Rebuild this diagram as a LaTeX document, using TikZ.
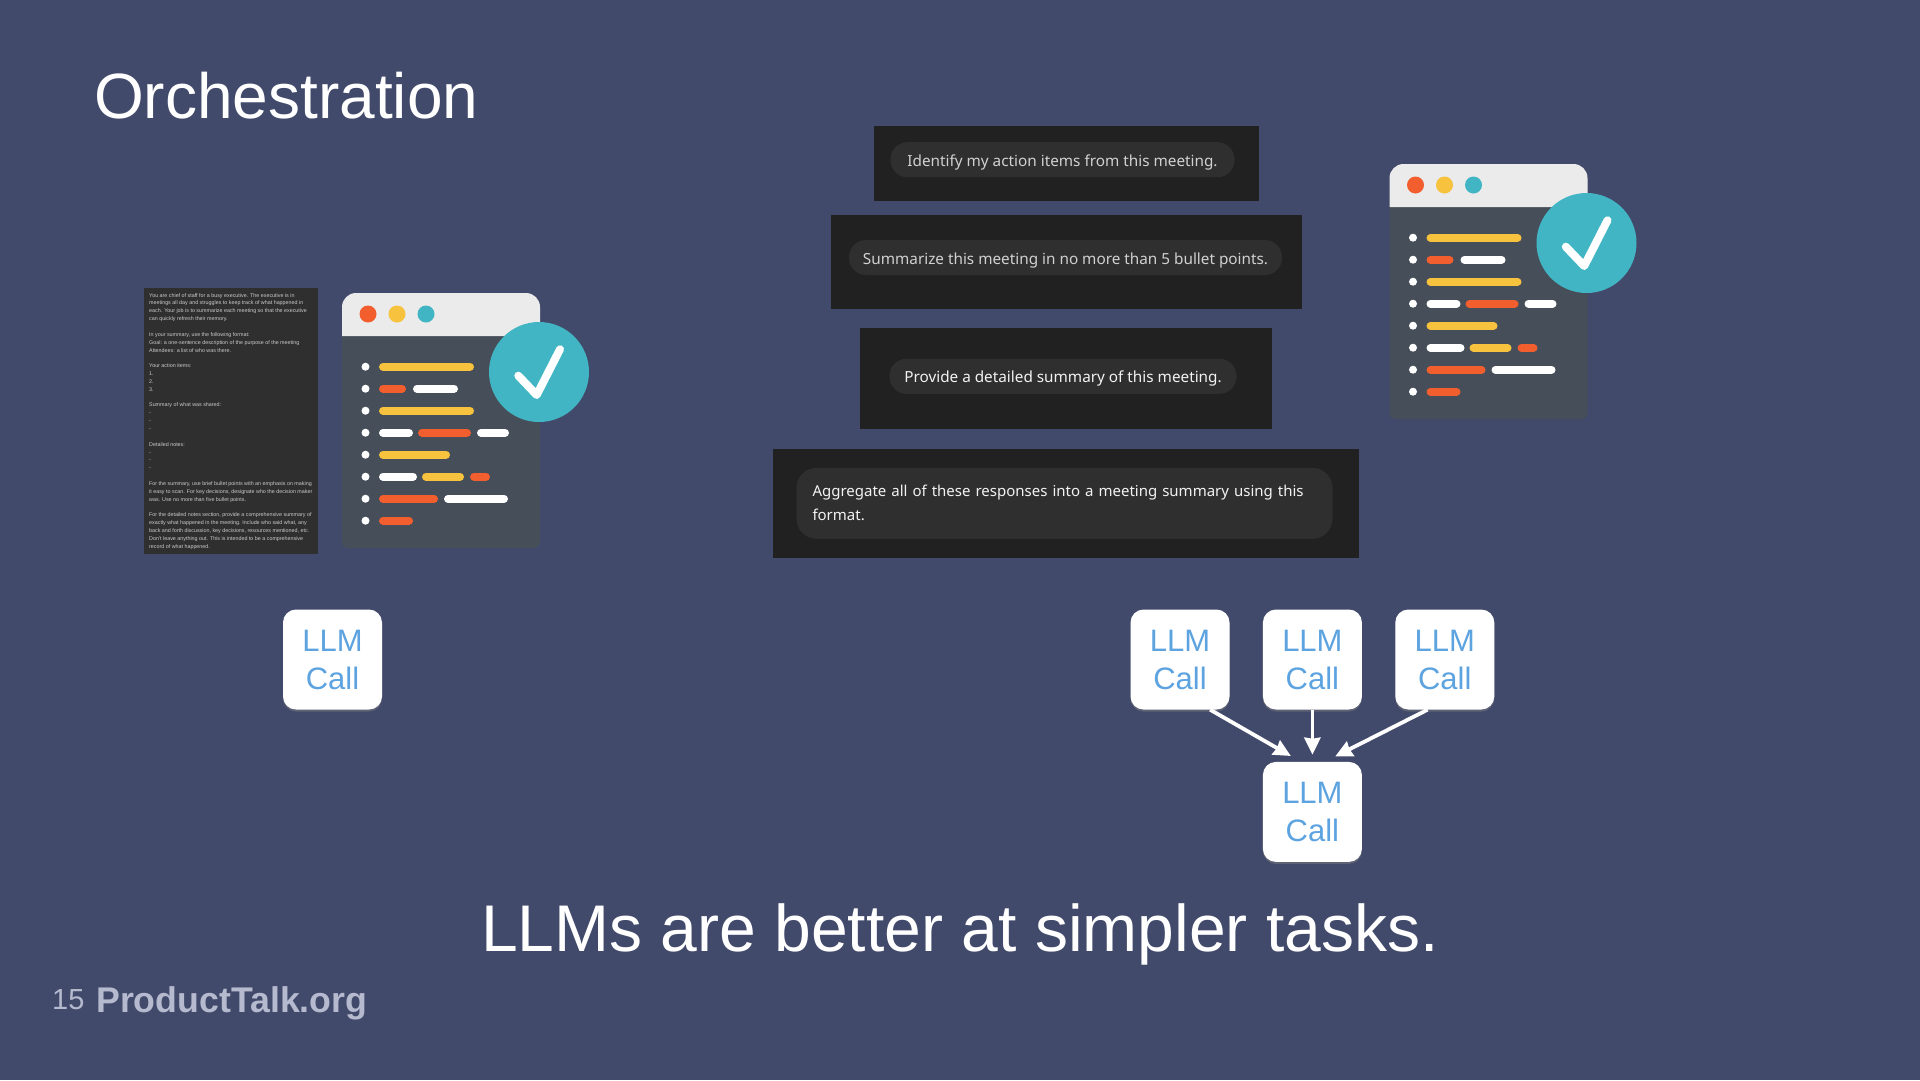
\documentclass[tikz,border=0pt]{standalone}
\usepackage{xcolor}
\usepackage{fontspec}
\usepackage{tikz}
\usetikzlibrary{arrows.meta, positioning, shadows}
\setmainfont{Liberation Sans}
\newfontfamily\chatfont{Noto Sans}
\definecolor{slidebg}{rgb}{0.26, 0.29, 0.42}
\definecolor{mydark}{rgb}{0.13, 0.13, 0.13}
\definecolor{mypill}{rgb}{0.185, 0.185, 0.185}
\definecolor{mybody}{rgb}{0.275, 0.305, 0.35}
\definecolor{myhead}{rgb}{0.92, 0.92, 0.92}
\definecolor{myorange}{rgb}{0.95, 0.37, 0.18}
\definecolor{myyellow}{rgb}{0.97, 0.76, 0.24}
\definecolor{myteal}{rgb}{0.26, 0.71, 0.77}
\definecolor{myblue}{rgb}{0.36, 0.64, 0.88}
\definecolor{myfoot}{rgb}{0.71, 0.73, 0.81}
\tikzstyle{llmcall} = [rectangle, rounded corners=13pt, minimum width=99pt, minimum height=100pt, inner sep=0pt, align=center, fill=white, text=myblue, font=\fontsize{31}{38}\selectfont, drop shadow={shadow xshift=0pt, shadow yshift=-2pt, opacity=0.45}]
\tikzstyle{darkbox} = [rectangle, inner sep=0pt, fill=mydark]
\tikzstyle{pill} = [rectangle, rounded corners=17pt, inner sep=0pt, minimum height=35pt, text height=17pt, text depth=4pt, fill=mypill, font=\chatfont\fontsize{15.3}{24}\selectfont]
\tikzstyle{slidetext} = [anchor=base west, inner sep=0pt, text=white]
\tikzstyle{arrow} = [line width=3.8pt, white, -{Stealth[length=17pt, width=16pt, inset=1pt]}, shorten >=7pt]
\tikzstyle{bar} = [line width=8pt, line cap=round]
\newcommand{\codewindow}[1]{
    \begin{scope}[shift={#1}]
        \fill[mybody, rounded corners=6pt] (0,30) rectangle (198,255);
        \fill[myhead] (0,43) [rounded corners=14pt] -- (0,0) -- (198,0) [sharp corners] -- (198,43) -- cycle;
        \foreach \cx/\cc in {26/myorange, 55/myyellow, 84/myteal}
            \fill[\cc] (\cx,21) circle (8.5pt);
        \foreach \row in {0,...,7}
            \fill[white] (23.5,73.7+22*\row) circle (4pt);
        \foreach \row/\xa/\xb/\cc in {0/41/128/myyellow, 1/41/60/myorange, 1/75/112/white, 2/41/128/myyellow, 3/41/67/white, 3/80/125/myorange, 3/139/163/white, 4/41/104/myyellow, 5/41/71/white, 5/84/118/myyellow, 5/132/144/myorange, 6/41/92/myorange, 6/106/162/white, 7/41/67/myorange}
            \draw[bar, \cc] (\xa,73.7+22*\row) -- (\xb,73.7+22*\row);
        \fill[myteal] (197,79) circle (50pt);
        \draw[white, line width=8pt, line cap=round, line join=round] (176.3,82.7) -- (194.7,102) -- (218,56.3);
    \end{scope}
}

\begin{document}
\begin{tikzpicture}[x=1pt, y=-1pt]
    \path[use as bounding box, fill=slidebg] (0,0) rectangle (1920,1080);

    \node (title) [slidetext, font=\fontsize{64}{70}\selectfont] at (94,118) {Orchestration};
    \node (claim) [slidetext, font=\fontsize{66}{70}\selectfont] at (481,951) {LLMs are better at simpler tasks.};
    \node (pagenum) [slidetext, text=myfoot, font=\fontsize{29}{34}\selectfont] at (52,1009) {15};
    \node (brand) [slidetext, text=myfoot, font=\bfseries\fontsize{35.7}{38}\selectfont] at (96,1012) {ProductTalk.org};

    \fill[mypill] (144,288) rectangle (318,554);
    \node (prompt) [anchor=north west, inner sep=0pt, align=left, text=white!80!black, font=\fontsize{5.35}{7.85}\selectfont] at (149,293) {You are chief of staff for a busy executive. The executive is in\\
meetings all day and struggles to keep track of what happened in\\
each. Your job is to summarize each meeting so that the executive\\
can quickly refresh their memory.\\[7.85pt]
In your summary, use the following format:\\
Goal: a one-sentence description of the purpose of the meeting\\
Attendees: a list of who was there.\\[7.85pt]
Your action items:\\
1.\\
2.\\
3.\\[7.85pt]
Summary of what was shared:\\
-\\
-\\
-\\[7.85pt]
Detailed notes:\\
-\\
-\\
-\\[7.85pt]
For the summary, use brief bullet points with an emphasis on making\\
it easy to scan. For key decisions, designate who the decision maker\\
was. Use no more than five bullet points.\\[7.85pt]
For the detailed notes section, provide a comprehensive summary of\\
exactly what happened in the meeting. Include who said what, any\\
back and forth discussion, key decisions, resources mentioned, etc.\\
Don't leave anything out. This is intended to be a comprehensive\\
record of what happened.};

    \codewindow{(342,293)}
    \codewindow{(1389.5,164)}

    \node (boxa) [darkbox, minimum width=385pt, minimum height=75pt] at (1066,163.5) {};
    \node (boxb) [darkbox, minimum width=471pt, minimum height=94pt] at (1066,261.5) {};
    \node (boxc) [darkbox, minimum width=412pt, minimum height=101pt] at (1066,378.5) {};
    \node (boxd) [darkbox, minimum width=586pt, minimum height=109pt] at (1066,503.8) {};

    \node (pilla) [pill, minimum width=344pt, text=white!82!black] at (1062.5,159.7) {Identify my action items from this meeting.};
    \node (pillb) [pill, minimum width=433pt, text=white!82!black] at (1065.5,257.5) {Summarize this meeting in no more than 5 bullet points.};
    \node (pillc) [pill, minimum width=347pt, text=white!95!black] at (1063,376.3) {Provide a detailed summary of this meeting.};
    \node (pilld) [pill, rounded corners=20pt, inner xsep=16pt, text width=504pt, text height=, text depth=, minimum height=71pt, align=left, text=white!95!black, font=\chatfont\fontsize{15}{24}\selectfont] at (1064.5,503.3) {Aggregate all of these responses into a meeting summary using this\\format.};

    \node (callone) [llmcall] at (332.5,659.5) {LLM\\Call};
    \node (calla) [llmcall] at (1180,659.5) {LLM\\Call};
    \node (callb) [llmcall, right=33pt of calla] {LLM\\Call};
    \node (callc) [llmcall, right=33pt of callb] {LLM\\Call};
    \node (calld) [llmcall, below=52pt of callb] {LLM\\Call};

    \draw [arrow, shorten >=11.5pt] (calla.-59) -- (calld.103);
    \draw [arrow] (callb) -- (calld);
    \draw [arrow, shorten >=11.5pt] (callc.-109) -- (calld.76);
\end{tikzpicture}
\end{document}
